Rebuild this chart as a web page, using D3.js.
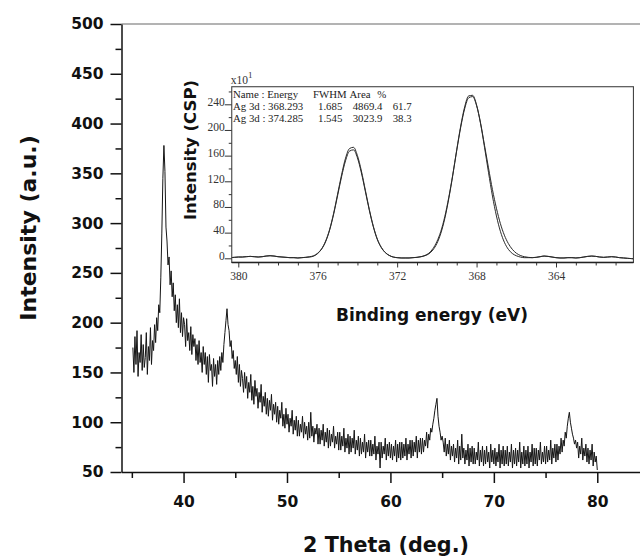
<!DOCTYPE html>
<html><head><meta charset="utf-8">
<script src="https://cdn.jsdelivr.net/npm/d3@7"></script>
<style>
html,body{margin:0;padding:0;background:#fff;}
svg{display:block;}
</style></head><body>
<svg id="c" width="640" height="556"></svg>
<script>
// ---------- main XRD pattern ----------
const xrdStart = 35.1;      // first sampled 2-theta (deg)
const xrdStep = 0.1;        // sampling step (deg); one row = 1 deg
const xrdIntensity = [
  175,150,186,158,192,146,170,160,188,152,
  178,155,165,190,148,176,162,195,158,182,
  172,198,180,205,192,218,210,245,290,345,
  378,352,296,282,258,266,238,252,226,240,
  212,228,200,218,195,224,190,210,186,205,
  198,176,204,182,190,172,196,168,188,176,
  184,162,178,158,182,160,170,150,176,158,
  170,148,166,140,168,152,158,136,164,146,
  158,138,162,148,166,152,170,160,178,190,
  202,214,198,192,176,182,164,172,154,162,
  148,166,140,158,136,152,144,130,150,134,
  146,124,140,130,148,122,136,118,142,126,
  134,114,130,120,138,110,126,116,130,108,
  124,106,122,112,128,102,118,108,120,100,
  116,98,112,104,120,96,108,94,114,98,
  108,90,104,96,112,88,102,92,106,86,
  102,86,98,90,106,84,100,88,96,82,
  100,84,110,86,96,80,94,88,98,78,
  94,78,92,82,98,76,90,80,94,74,
  92,76,88,80,96,74,86,78,90,72,
  90,72,86,76,94,70,84,74,88,68,
  86,70,84,74,92,68,82,72,86,66,
  84,68,80,70,88,64,80,70,82,66,
  82,66,78,68,86,62,76,68,80,54,
  80,64,76,68,84,62,78,66,80,64,
  78,62,76,66,82,60,78,64,80,62,
  80,64,78,66,84,62,78,68,82,64,
  82,66,80,70,86,64,82,70,84,68,
  84,70,82,76,90,74,88,82,94,90,
  98,104,112,118,124,106,96,90,82,86,
  80,70,84,66,78,68,82,62,76,66,
  78,60,74,64,82,58,76,62,88,64,
  74,58,72,62,78,56,74,60,76,58,
  74,58,70,62,80,56,72,60,76,56,
  72,58,76,60,70,54,78,60,72,58,
  74,56,70,60,78,54,72,58,76,56,
  72,58,76,56,70,60,78,54,72,58,
  74,56,72,60,80,54,70,58,76,56,
  72,58,76,54,70,60,78,56,74,58,
  74,56,72,62,80,58,70,60,76,58,
  76,60,72,62,82,58,74,64,78,60,
  78,62,76,68,84,70,82,76,90,84,
  96,104,110,100,94,88,84,78,82,74,
  80,64,76,68,84,62,74,66,78,60,
  74,58,72,62,78,56,70,60,66,52
];
const xTicksMajor = [40,50,60,70,80];
const xTicksMinor = [35,45,55,65,75];
const yTicksMajor = [50,100,150,200,250,300,350,400,450,500];
const yTicksMinor = [75,125,175,225,275,325,375,425,475];
const xTitle = "2 Theta (deg.)";
const yTitle = "Intensity (a.u.)";

// ---------- inset XPS spectrum ----------
const xpsStart = 380.4;     // first binding energy (eV)
const xpsStep = -0.2;
const xpsMeasured = [
  1,1.5,2,2,2.5,3,2.5,2,2.5,3.5,
  4,3.5,2.5,2,1.5,1,1,0.5,1,1.5,
  2.5,4,8,15,27,45,70,100,130,156,
  171,173,160,136,106,76,50,30,17,9,
  4.5,2,1,0.5,0.5,0.5,1,1.5,2.5,4,
  7,13,23,39,62,93,129,169,206,236,
  253,254,239,210,173,134,97,66,42,25,
  14,7.5,4,2,1,1,1,1.5,2.5,3.5,
  3,2,1,0.5,0.5,1,1,0.5,1,2,
  3,3.5,3,2,1.5,2,2.5,2,1,0.5,
  0,-0.5,-1
];
const xpsFit = [
  1,1.5,2,2,2.5,3,2.5,2,2.5,3.5,
  4,3.5,2.5,2,1.5,1,1,0.5,1,1.5,
  2,3.5,7.5,14.5,26,44,68.5,97.5,127,152,
  167,169,156.5,133,104,74.5,49,29.5,17,9,
  4.5,2,1,0.5,0.5,0.5,1,1.5,2.5,4.5,
  8,15,26,42,65,95,130,168,204,233,
  250,252,238,211,176,141,107,78,54,36,
  23,14,8,4.5,2.5,1.5,1,1.5,2.5,3.5,
  3,2,1,0.5,0.5,1,1,0.5,1,2,
  3,3.5,3,2,1.5,2,2.5,2,1,0.5,
  0,-0.5,-1
];
const xpsTicksMajor = [380,376,372,368,364];
const xpsTicksMinor = [379,378,377,375,374,373,371,370,369,367,366,365,363,362,361];
const xpsYTicksMajor = [0,40,80,120,160,200,240];
const xpsYTicksMinor = [20,60,100,140,180,220,260];
const fitHeader = ["Name : Energy","FWHM","Area","%"];
const fitRow1 = ["Ag 3d : 368.293","1.685","4869.4","61.7"];
const fitRow2 = ["Ag 3d : 374.285","1.545","3023.9","38.3"];

// ================= drawing =================
const svg = d3.select("#c");
const SANS = "'DejaVu Sans', sans-serif";
const SERIF = "'Liberation Serif', 'Times New Roman', serif";

const x = d3.scaleLinear().domain([34, 84.13]).range([121.5, 640]);
const y = d3.scaleLinear().domain([50, 500]).range([472, 24]);

// top frame line
svg.append("line")
  .attr("x1", x(34)).attr("x2", 640)
  .attr("y1", y(500)).attr("y2", y(500))
  .attr("stroke", "#9a9a9a").attr("stroke-width", 1.5);

// data
const line = d3.line()
  .x((d, i) => x(xrdStart + i * xrdStep))
  .y(d => y(d));
svg.append("path").datum(xrdIntensity)
  .attr("d", line)
  .attr("fill", "none").attr("stroke", "#151515")
  .attr("stroke-width", 1).attr("stroke-linejoin", "round");

function styleAxis(g, size) {
  g.attr("font-family", SANS).attr("font-weight", "bold").attr("font-size", size);
  g.selectAll("path,line").attr("stroke", "#111").attr("stroke-width", 1.5);
  g.selectAll("text").attr("fill", "#111");
}

// y axis
const gy = svg.append("g").attr("transform", `translate(${x(34)},0)`);
gy.call(d3.axisLeft(y).tickValues(yTicksMajor).tickSize(11).tickSizeOuter(0).tickPadding(7));
gy.append("g").call(d3.axisLeft(y).tickValues(yTicksMinor).tickSize(6).tickFormat(""))
  .select(".domain").remove();
styleAxis(gy, 15.5);

// x axis
const gx = svg.append("g").attr("transform", `translate(0,${y(50)})`);
gx.call(d3.axisBottom(x).tickValues(xTicksMajor).tickSize(11).tickSizeOuter(0).tickPadding(13));
gx.append("g").call(d3.axisBottom(x).tickValues(xTicksMinor).tickSize(6).tickFormat(""))
  .select(".domain").remove();
styleAxis(gx, 15.5);

// titles
svg.append("text").text(xTitle)
  .attr("x", 386).attr("y", 552).attr("text-anchor", "middle")
  .attr("font-family", SANS).attr("font-weight", "bold").attr("font-size", 20.7).attr("fill", "#111");
svg.append("text").text(yTitle)
  .attr("transform", "translate(36,228) rotate(-90)").attr("text-anchor", "middle")
  .attr("font-family", SANS).attr("font-weight", "bold").attr("font-size", 22).attr("fill", "#111");

// ---------- inset ----------
const xi = d3.scaleLinear().domain([380, 364]).range([238.3, 556]);
const yi = d3.scaleLinear().domain([0, 240]).range([258.3, 104.3]);
const iL = xi(380.33), iR = xi(360.1), iT = yi(267.4), iB = yi(-6.5);

svg.append("defs").append("clipPath").attr("id", "ic")
  .append("rect").attr("x", iL).attr("y", iT).attr("width", iR - iL).attr("height", iB - iT);

const iline = d3.line()
  .x((d, i) => xi(xpsStart + i * xpsStep))
  .y(d => yi(d))
  .curve(d3.curveMonotoneX);
const ig = svg.append("g").attr("clip-path", "url(#ic)");
[xpsFit, xpsMeasured].forEach(s => {
  ig.append("path").datum(s).attr("d", iline)
    .attr("fill", "none").attr("stroke", "#2a2a2a").attr("stroke-width", 1);
});

// frame
svg.append("rect").attr("x", iL).attr("y", iT).attr("width", iR - iL).attr("height", iB - iT)
  .attr("fill", "none").attr("stroke", "#444").attr("stroke-width", 1.1);

// inset x axis
const gxi = svg.append("g").attr("transform", `translate(0,${iB})`);
gxi.call(d3.axisBottom(xi).tickValues(xpsTicksMajor).tickSize(5).tickSizeOuter(0).tickPadding(4).tickFormat(d3.format("d")));
gxi.select(".domain").remove();
gxi.append("g").call(d3.axisBottom(xi).tickValues(xpsTicksMinor).tickSize(3).tickFormat(""))
  .select(".domain").remove();
gxi.attr("font-family", SERIF).attr("font-size", 11.5);
gxi.selectAll("line").attr("stroke", "#333");
gxi.selectAll("text").attr("fill", "#333");
svg.append("line").attr("x1", iL).attr("x2", iR).attr("y1", iB).attr("y2", iB)
  .attr("stroke", "#222").attr("stroke-width", 1.6);

// inset y axis
const gyi = svg.append("g").attr("transform", `translate(${iL},0)`);
gyi.call(d3.axisLeft(yi).tickValues(xpsYTicksMajor).tickSize(7).tickSizeOuter(0).tickPadding(0).tickFormat(d3.format("d")));
gyi.select(".domain").remove();
gyi.append("g").call(d3.axisLeft(yi).tickValues(xpsYTicksMinor).tickSize(3).tickFormat(""))
  .select(".domain").remove();
gyi.attr("font-family", SERIF).attr("font-size", 11.5);
gyi.selectAll("line").attr("stroke", "#333");
gyi.selectAll("text").attr("fill", "#333").attr("dy", "0").attr("y", 1).attr("x", -7);

// x10^1
const sc = svg.append("text").attr("x", iL - 1).attr("y", iT - 3)
  .attr("font-family", SERIF).attr("font-size", 11.5).attr("fill", "#333");
sc.append("tspan").text("x10");
sc.append("tspan").text("1").attr("dy", -6).attr("font-size", 9);

// fit table
const colX = [233, 313, 349.5, 377.3];
const colX2 = [233, 318, 352.7, 392.7];
const rows = [[fitHeader, colX, 98], [fitRow1, colX2, 110], [fitRow2, colX2, 122]];
rows.forEach(([r, cx, by]) => {
  r.forEach((t, j) => {
    svg.append("text").text(t).attr("x", cx[j]).attr("y", by)
      .attr("font-family", SERIF).attr("font-size", 10.8).attr("fill", "#222");
  });
});

// inset titles
svg.append("text").text("Intensity (CSP)")
  .attr("transform", "translate(196,150) rotate(-90)").attr("text-anchor", "middle")
  .attr("font-family", SANS).attr("font-weight", "bold").attr("font-size", 16.5).attr("fill", "#111");
svg.append("text").text("Binding energy (eV)")
  .attr("x", 432).attr("y", 320.5).attr("text-anchor", "middle")
  .attr("font-family", SANS).attr("font-weight", "bold").attr("font-size", 17).attr("fill", "#111");
</script>
</body></html>
